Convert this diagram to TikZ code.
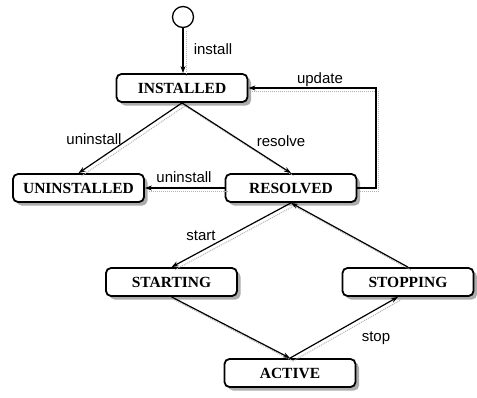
\documentclass[tikz,border=0pt]{standalone}
\usepackage{fontspec}
\setmainfont{Liberation Serif}
\setsansfont{Liberation Sans}
\usetikzlibrary{arrows.meta,shadows}
\begin{document}
\begin{tikzpicture}[x=1pt,y=-1pt,
  state/.style={draw, line width=1.8pt, rounded corners=5pt, fill=white,
    minimum width=131pt, minimum height=28pt, inner sep=0pt,
    font=\fontsize{15.5}{18}\selectfont\bfseries,
    drop shadow={shadow xshift=3.5pt, shadow yshift=-3.5pt, fill=gray!65, opacity=1}},
  initial/.style={draw, circle, line width=1.3pt, fill=white,
    minimum size=21pt, inner sep=0pt},
  trans/.style={line width=1.2pt, -{Stealth[length=7pt,width=5pt]}},
  lbl/.style={font=\sffamily\fontsize{15}{18}\selectfont, inner sep=0pt},
  lineshade/.style={draw=gray!60, line width=1pt, densely dotted}]
\useasboundingbox (0,0) rectangle (477,397);

% states
\node[initial] (init) at (183,17) {};
\node[state] (inst)   at (182,88)   {INSTALLED};
\node[state] (uninst) at (78.5,188) {UNINSTALLED};
\node[state] (res)    at (291,188)  {RESOLVED};
\node[state] (sting)  at (171.5,282){STARTING};
\node[state] (sping)  at (408,282)  {STOPPING};
\node[state] (act)    at (290,373)  {ACTIVE};

% faint shadows of the transitions
\begin{scope}[transform canvas={xshift=3pt,yshift=-3pt}]
  \draw[lineshade] (init) -- (init |- inst.north);
  \draw[lineshade] (inst.south) -- (uninst.north);
  \draw[lineshade] (inst.south) -- (res.north);
  \draw[lineshade] (res.west) -- (uninst.east);
  \draw[lineshade] (res.east) -- ++(18.5,0) |- (inst.east);
  \draw[lineshade] (res.south) -- (sting.north);
  \draw[lineshade] (sping.north) -- (res.south);
  \draw[lineshade] (sting.south) -- (act.north);
  \draw[lineshade] (act.north) -- ([xshift=-10pt]sping.south);
\end{scope}

% transitions
\draw[trans] (init) -- (init |- inst.north);
\draw[trans] (inst.south) -- (uninst.north);
\draw[trans] (inst.south) -- (res.north);
\draw[trans] (res.west) -- (uninst.east);
\draw[trans] (res.east) -- ++(18.5,0) |- (inst.east);
\draw[trans] (res.south) -- (sting.north);
\draw[trans] (sping.north) -- (res.south);
\draw[trans] (sting.south) -- (act.north);
\draw[trans] (act.north) -- ([xshift=-10pt]sping.south);

% transition labels
\node[lbl] (linstall) at (213,49)  {install};
\node[lbl] (lupdate)  at (320,80)  {update};
\node[lbl] (lunin1)   at (94,139)  {uninstall};
\node[lbl] (lresolve) at (281,141) {resolve};
\node[lbl] (lunin2)   at (184,177) {uninstall};
\node[lbl] (lstart)   at (201,236) {start};
\node[lbl] (lstop)    at (376,338) {stop};
\end{tikzpicture}
\end{document}
